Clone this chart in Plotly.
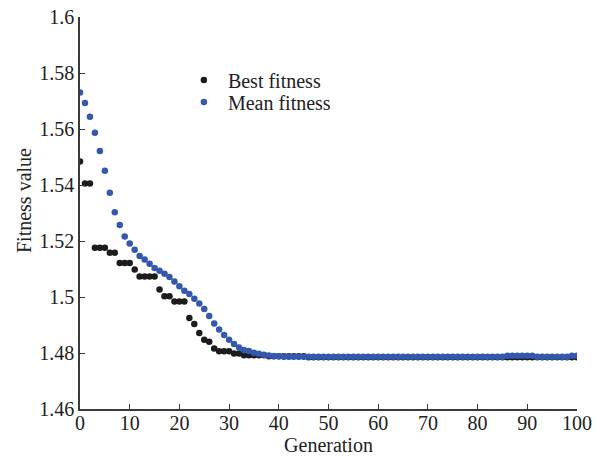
import plotly.graph_objects as go

generation = list(range(0, 101))

best_fitness = [
    1.5484, 1.5405, 1.5405, 1.5176, 1.5176, 1.5176, 1.5158, 1.5158, 1.5121, 1.5121,
    1.5121, 1.5098, 1.5073, 1.5073, 1.5073, 1.5073, 1.5027, 1.5003, 1.5003, 1.4984,
    1.4984, 1.4984, 1.4925, 1.4904, 1.4871, 1.4847, 1.4840, 1.4816, 1.4806, 1.4806,
    1.4806, 1.4798, 1.4798, 1.4792, 1.4792, 1.4792, 1.4792, 1.4792, 1.4788, 1.4788,
    1.4788, 1.4788, 1.4788, 1.4788, 1.4788, 1.4788, 1.4785, 1.4785, 1.4785, 1.4785,
    1.4785, 1.4785, 1.4785, 1.4785, 1.4785, 1.4785, 1.4785, 1.4785, 1.4785, 1.4785,
    1.4785, 1.4785, 1.4785, 1.4785, 1.4785, 1.4785, 1.4785, 1.4785, 1.4785, 1.4785,
    1.4785, 1.4785, 1.4785, 1.4785, 1.4785, 1.4785, 1.4785, 1.4785, 1.4785, 1.4785,
    1.4785, 1.4785, 1.4785, 1.4785, 1.4785, 1.4785, 1.4785, 1.4785, 1.4785, 1.4785,
    1.4785, 1.4785, 1.4785, 1.4785, 1.4785, 1.4785, 1.4785, 1.4785, 1.4785, 1.4785,
    1.4785,
]

mean_fitness = [
    1.5730, 1.5693, 1.5644, 1.5587, 1.5521, 1.5451, 1.5372, 1.5303, 1.5257, 1.5216,
    1.5191, 1.5169, 1.5146, 1.5134, 1.5119, 1.5104, 1.5094, 1.5083, 1.5071, 1.5055,
    1.5038, 1.5022, 1.5011, 1.4994, 1.4977, 1.4957, 1.4932, 1.4905, 1.4884, 1.4864,
    1.4847, 1.4832, 1.4820, 1.4811, 1.4807, 1.4801, 1.4797, 1.4794, 1.4791, 1.4789,
    1.4788, 1.4787, 1.4787, 1.4787, 1.4787, 1.4787, 1.4787, 1.4787, 1.4787, 1.4787,
    1.4787, 1.4787, 1.4787, 1.4787, 1.4787, 1.4787, 1.4787, 1.4787, 1.4787, 1.4787,
    1.4787, 1.4787, 1.4787, 1.4787, 1.4787, 1.4787, 1.4787, 1.4787, 1.4787, 1.4787,
    1.4787, 1.4787, 1.4787, 1.4787, 1.4787, 1.4787, 1.4787, 1.4787, 1.4787, 1.4787,
    1.4787, 1.4787, 1.4787, 1.4787, 1.4787, 1.4787, 1.4790, 1.4790, 1.4790, 1.4790,
    1.4790, 1.4790, 1.4787, 1.4787, 1.4787, 1.4787, 1.4787, 1.4787, 1.4787, 1.4790,
    1.4790,
]

x_ticks = [0, 10, 20, 30, 40, 50, 60, 70, 80, 90, 100]
y_ticks = [1.46, 1.48, 1.5, 1.52, 1.54, 1.56, 1.58, 1.6]
y_tick_text = ["1.46", "1.48", "1.5", "1.52", "1.54", "1.56", "1.58", "1.6"]

FONT = "Liberation Serif, Times New Roman, serif"
TEXT = "#222222"
AXIS = "#3a3a3a"

fig = go.Figure()
fig.add_trace(go.Scatter(
    x=generation, y=best_fitness, mode="markers", name="Best fitness",
    marker=dict(color="#1c1c1c", size=6.5, line=dict(width=0)),
    legend="legend",
))
fig.add_trace(go.Scatter(
    x=generation, y=mean_fitness, mode="markers", name="Mean fitness",
    marker=dict(color="#3358ad", size=6.5, line=dict(width=0)),
    legend="legend2",
))

legend_common = dict(
    xanchor="left", yanchor="middle", bgcolor="rgba(0,0,0,0)",
    font=dict(family=FONT, size=20, color=TEXT), itemwidth=38,
)

fig.update_layout(
    width=599, height=456,
    margin=dict(l=80, r=22, t=17, b=47),
    paper_bgcolor="white", plot_bgcolor="white",
    font=dict(family=FONT, size=20, color=TEXT),
    showlegend=True,
    legend=dict(x=0.201, y=0.839, **legend_common),
    legend2=dict(x=0.201, y=0.783, **legend_common),
    xaxis=dict(
        range=[0, 100], tickvals=x_ticks, ticks="inside", ticklen=5,
        tickcolor=AXIS, showline=True, linecolor=AXIS, linewidth=1.5,
        showgrid=False, zeroline=False, mirror=False, automargin=False,
        ticklabelstandoff=-5, ticklabeloverflow="allow",
        title=dict(text="Generation", standoff=0, font=dict(size=20)),
        tickfont=dict(size=20),
    ),
    yaxis=dict(
        range=[1.46, 1.6], tickvals=y_ticks, ticktext=y_tick_text, ticks="inside",
        ticklen=5, tickcolor=AXIS, showline=True, linecolor=AXIS,
        linewidth=1.5, showgrid=False, zeroline=False, mirror=False,
        automargin=False, ticklabeloverflow="allow",
        tickfont=dict(size=20),
    ),
    annotations=[dict(
        text="Fitness value", textangle=-90, xref="paper", yref="paper",
        x=-0.1127, y=0.533, xanchor="center", yanchor="middle",
        showarrow=False, font=dict(family=FONT, size=20, color=TEXT),
    )],
)

fig.write_html(
    "out.html",
    config={"displayModeBar": False},
    post_script="document.body.style.margin='0';document.body.style.overflow='hidden';",
)
